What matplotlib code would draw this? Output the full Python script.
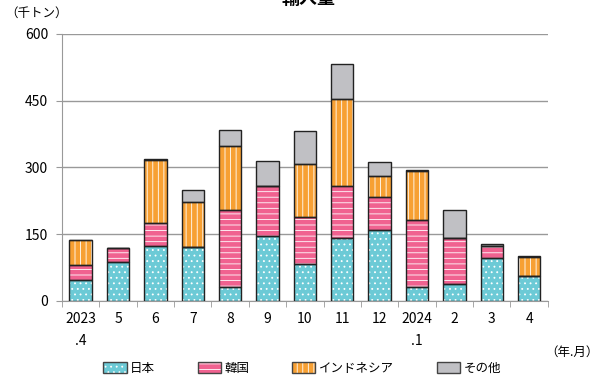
import matplotlib.pyplot as plt
from matplotlib.patches import Patch
import numpy as np

plt.rcParams['font.family'] = ['Noto Sans CJK JP', 'DejaVu Sans']
plt.rcParams['hatch.linewidth'] = 0.6

# data (thousand tonnes)
months = ["2023\n.4", "5", "6", "7", "8", "9", "10", "11", "12", "2024\n.1", "2", "3", "4"]
japan = [48, 88, 123, 121, 31, 147, 83, 142, 159, 31, 37, 96, 57]
korea = [32, 30, 52, 1, 173, 112, 106, 116, 74, 150, 104, 28, 0]
indonesia = [56, 0, 142, 101, 145, 0, 118, 196, 47, 111, 0, 0, 42]
others = [2, 1, 2, 26, 36, 56, 75, 79, 33, 2, 63, 3, 1]
series = ["日本", "韓国", "インドネシア", "その他"]

colors = ["#6ccad6", "#f06290", "#f7a033", "#c0c0c4"]
hatches = ["...", "---", "|||", ""]

fig = plt.figure(figsize=(6.02, 3.8), dpi=100)
ax = fig.add_axes([0.103, 0.208, 0.807, 0.703])

x = np.arange(len(months))
bottom = np.zeros(len(months))
for vals, col, h in zip([japan, korea, indonesia, others], colors, hatches):
    vals = np.array(vals)
    # hatched fill in white, then dark outline on top
    ax.bar(x, vals, 0.6, bottom=bottom, color=col, hatch=h, edgecolor="white", linewidth=0, zorder=2)
    ax.bar(x, vals, 0.6, bottom=bottom, fill=False, edgecolor="#222222", linewidth=1.0, zorder=3)
    bottom += vals

ax.set_xlim(-0.5, len(months) - 0.5)
ax.set_ylim(0, 600)
ax.set_yticks([0, 150, 300, 450, 600])
ax.yaxis.grid(True, color="#999999", linewidth=1.0, zorder=0)
ax.set_axisbelow(True)

ax.set_xticks(x)
ax.set_xticklabels(months, fontsize=10, linespacing=1.7, va="top")
ax.set_xticks(np.arange(-0.5, len(months)), minor=True)
ax.tick_params(axis="x", which="major", length=0, pad=8)
ax.tick_params(axis="x", which="minor", length=4, color="#999999")
ax.tick_params(axis="y", length=4, color="#999999", labelsize=10, pad=6)

for s in ["top", "right"]:
    ax.spines[s].set_visible(False)
ax.spines["left"].set_color("#999999")
ax.spines["bottom"].set_color("#999999")

fig.text(0.008, 0.965, "（千トン）", fontsize=9, va="center", ha="left")
fig.text(0.995, 0.072, "（年.月）", fontsize=9, va="center", ha="right")
fig.text(0.512, 1.005, "輸入量", fontsize=13, fontweight="bold", va="center", ha="center")

handles = []
for col, h in zip(colors, hatches):
    handles.append((Patch(facecolor=col, hatch=h, edgecolor="white", linewidth=0),
                    Patch(fill=False, edgecolor="#444444", linewidth=1.0)))
fig.legend(handles, series, loc="center", bbox_to_anchor=(0.502, 0.03), ncol=4,
           frameon=False, fontsize=9, handlelength=1.85, handleheight=1.0,
           handletextpad=0.3, columnspacing=3.4)

fig.savefig("out.png", dpi=100)
